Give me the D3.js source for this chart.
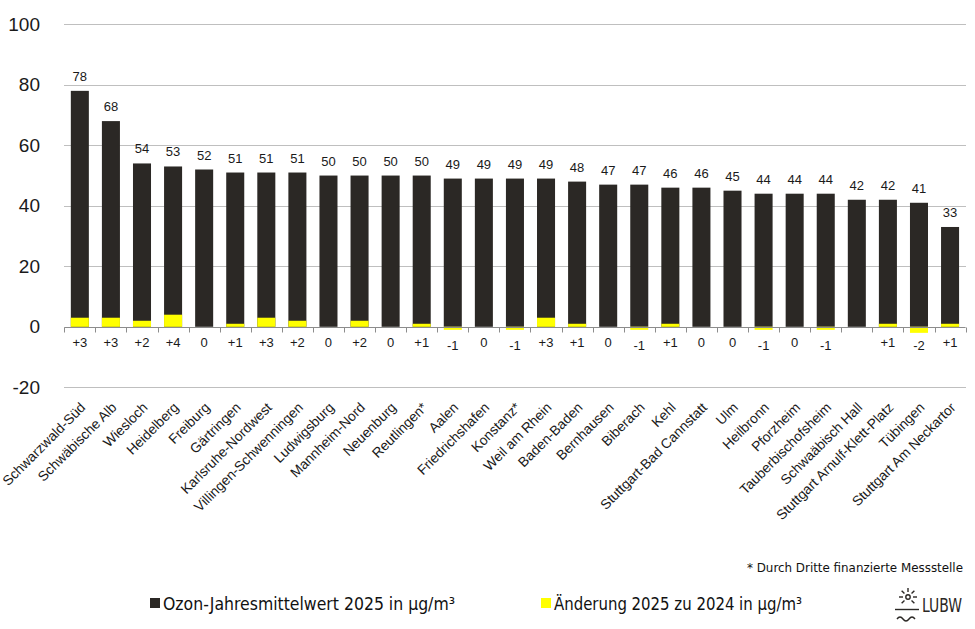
<!DOCTYPE html>
<meta charset="utf-8">
<style>
  body { margin: 0; background: #fff; font-family: "Liberation Sans", Arial, sans-serif; }
  .grid line { stroke: #bfbfbf; stroke-width: 1; shape-rendering: crispEdges; }
  .ytick text { font-size: 19px; fill: #1a1a1a; }
  .val { font-size: 13px; fill: #1a1a1a; text-anchor: middle; }
  .chg { font-size: 13px; fill: #1a1a1a; text-anchor: middle; }
  .xlab { font-size: 13.8px; fill: #1a1a1a; text-anchor: end; }
  .legend text { font-family: "Liberation Sans Narrow", "DejaVu Sans Condensed", "Roboto", sans-serif; fill: #111; }
</style>
<body>
<script src="https://cdn.jsdelivr.net/npm/d3@7"></script>
<script>
var stations = ["Schwarzwald-Süd", "Schwäbische Alb", "Wiesloch", "Heidelberg", "Freiburg",
  "Gärtringen", "Karlsruhe-Nordwest", "Villingen-Schwenningen", "Ludwigsburg", "Mannheim-Nord",
  "Neuenburg", "Reutlingen*", "Aalen", "Friedrichshafen", "Konstanz*", "Weil am Rhein",
  "Baden-Baden", "Bernhausen", "Biberach", "Kehl", "Stuttgart-Bad Cannstatt", "Ulm",
  "Heilbronn", "Pforzheim", "Tauberbischofsheim", "Schwaäbisch Hall",
  "Stuttgart Arnulf-Klett-Platz", "Tübingen", "Stuttgart Am Neckartor"];
var mean2025 = [78, 68, 54, 53, 52, 51, 51, 51, 50, 50, 50, 50, 49, 49, 49, 49, 48, 47, 47,
  46, 46, 45, 44, 44, 44, 42, 42, 41, 33];
// change vs. 2024, null = no value
var change = [3, 3, 2, 4, 0, 1, 3, 2, 0, 2, 0, 1, -1, 0, -1, 3, 1, 0, -1, 1, 0, 0, -1, 0, -1,
  null, 1, -2, 1];
var yTicks = [-20, 0, 20, 40, 60, 80, 100];

var width = 975, height = 629;
var left = 64.3, right = 965.6;

var data = stations.map(function(s, i) {
  return { name: s, value: mean2025[i], change: change[i] };
});

var x = d3.scaleBand()
    .domain(stations)
    .range([left, right])
    .paddingInner(0.42)
    .paddingOuter(0.21);

var y = d3.scaleLinear()
    .domain([-20, 100])
    .range([387.3, 24.3]);

var svg = d3.select("body").append("svg")
    .attr("width", width)
    .attr("height", height);

// grid lines
svg.append("g").attr("class", "grid")
  .selectAll("line")
  .data(yTicks.filter(function(d) { return d !== 0; }))
  .enter().append("line")
    .attr("x1", left).attr("x2", right)
    .attr("y1", function(d) { return Math.round(y(d)) + 0.5; })
    .attr("y2", function(d) { return Math.round(y(d)) + 0.5; });

// y tick labels
svg.append("g").attr("class", "ytick")
  .selectAll("text")
  .data(yTicks)
  .enter().append("text")
    .attr("x", 40)
    .attr("y", function(d) { return y(d); })
    .attr("dy", "0.35em")
    .attr("text-anchor", "end")
    .text(function(d) { return d; });

// main bars
svg.append("g")
  .selectAll("rect")
  .data(data)
  .enter().append("rect")
    .attr("x", function(d) { return x(d.name); })
    .attr("width", x.bandwidth())
    .attr("y", function(d) { return y(d.value); })
    .attr("height", function(d) { return y(0) - y(d.value); })
    .attr("fill", "#2b2825");

// change bars
svg.append("g")
  .selectAll("rect")
  .data(data.filter(function(d) { return d.change; }))
  .enter().append("rect")
    .attr("x", function(d) { return x(d.name); })
    .attr("width", x.bandwidth())
    .attr("y", function(d) { return y(Math.max(0, d.change)); })
    .attr("height", function(d) { return Math.abs(y(0) - y(d.change)); })
    .attr("fill", "#ffff00");

// zero axis with ticks at band boundaries
var zeroY = Math.round(y(0)) + 0.5;
var axis = svg.append("g");
axis.append("line")
    .attr("x1", left).attr("x2", right)
    .attr("y1", zeroY).attr("y2", zeroY)
    .attr("stroke", "#8c8c8c");
axis.selectAll("line.tk")
  .data(d3.range(stations.length + 1))
  .enter().append("line")
    .attr("class", "tk")
    .attr("x1", function(k) { return Math.round(left + k * x.step()) + 0.5; })
    .attr("x2", function(k) { return Math.round(left + k * x.step()) + 0.5; })
    .attr("y1", zeroY).attr("y2", zeroY + 5)
    .attr("stroke", "#8c8c8c");

// value labels
svg.append("g")
  .selectAll("text")
  .data(data)
  .enter().append("text")
    .attr("class", "val")
    .attr("x", function(d) { return x(d.name) + x.bandwidth() / 2; })
    .attr("y", function(d) { return y(d.value) - 10; })
    .text(function(d) { return d.value; });

// change labels
svg.append("g")
  .selectAll("text")
  .data(data.filter(function(d) { return d.change !== null; }))
  .enter().append("text")
    .attr("class", "chg")
    .attr("x", function(d) { return x(d.name) + x.bandwidth() / 2; })
    .attr("y", function(d) { return d.change < 0 ? 350 : 347; })
    .text(function(d) { return d.change > 0 ? "+" + d.change : d.change; });

// category labels
svg.append("g")
  .selectAll("text")
  .data(stations)
  .enter().append("text")
    .attr("class", "xlab")
    .attr("transform", function(d) {
      return "translate(" + (x(d) + x.bandwidth() / 2 + 3) + ",405) rotate(-45)";
    })
    .attr("dy", "0.35em")
    .text(function(d) { return d; });

// footnote + legend
var legend = svg.append("g").attr("class", "legend");
legend.append("text")
    .attr("x", 963).attr("y", 572)
    .attr("text-anchor", "end")
    .attr("font-size", 13)
    .attr("textLength", 216).attr("lengthAdjust", "spacingAndGlyphs")
    .text("* Durch Dritte finanzierte Messstelle");

var legendItems = [
  { label: "Ozon-Jahresmittelwert 2025 in µg/m³", color: "#2b2825", x: 150, w: 292 },
  { label: "Änderung 2025 zu 2024 in µg/m³", color: "#ffff00", x: 541, w: 248 }
];
var li = legend.selectAll("g.item")
  .data(legendItems)
  .enter().append("g")
    .attr("class", "item")
    .attr("transform", function(d) { return "translate(" + d.x + ",0)"; });
li.append("rect")
    .attr("x", 0).attr("y", 598)
    .attr("width", 10).attr("height", 10)
    .attr("fill", function(d) { return d.color; });
li.append("text")
    .attr("x", 13).attr("y", 610)
    .attr("font-size", 17)
    .attr("textLength", function(d) { return d.w; })
    .attr("lengthAdjust", "spacingAndGlyphs")
    .text(function(d) { return d.label; });

// LUBW logo
var logo = svg.append("g")
    .attr("stroke", "#2b2825").attr("fill", "none").attr("stroke-width", 1.4);
logo.append("circle").attr("cx", 908).attr("cy", 597).attr("r", 2.2);
[-45, 0, 45, 90, 135, 180, 225].forEach(function(a) {
  var r = a * Math.PI / 180;
  logo.append("line")
    .attr("x1", 908 - Math.cos(r) * 5).attr("y1", 597 - Math.sin(r) * 5)
    .attr("x2", 908 - Math.cos(r) * 9).attr("y2", 597 - Math.sin(r) * 9);
});
logo.append("line").attr("x1", 895).attr("x2", 919).attr("y1", 609.5).attr("y2", 609.5);
logo.append("path").attr("d", "M897,619 q3,-4 6,0 t6,0 t6,0");
logo.append("text")
    .attr("x", 922).attr("y", 612)
    .attr("fill", "#2b2825").attr("stroke", "none")
    .attr("font-family", "DejaVu Sans Condensed, DejaVu Sans, sans-serif")
    .attr("font-size", 19)
    .attr("font-weight", 300)
    .attr("textLength", 40).attr("lengthAdjust", "spacingAndGlyphs")
    .text("LUBW");
</script>
</body>
